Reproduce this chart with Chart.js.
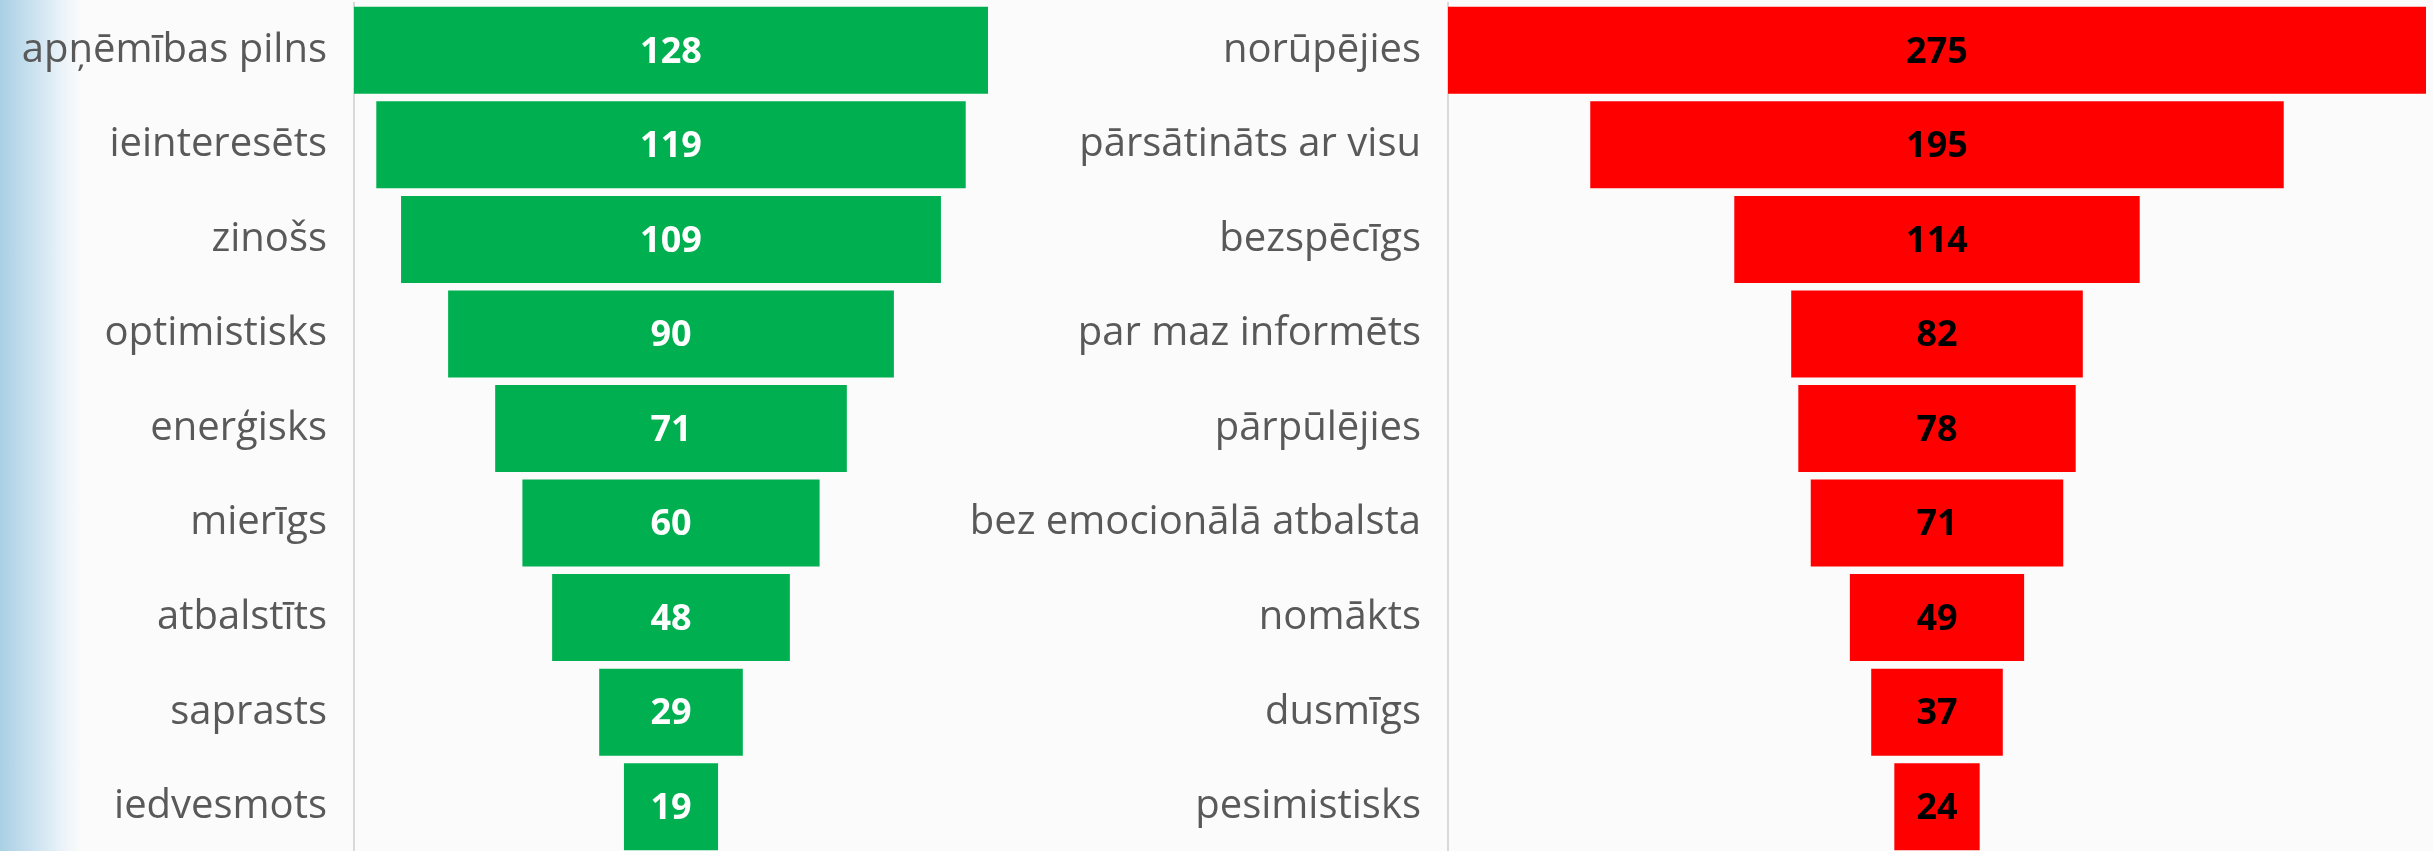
<!DOCTYPE html>
<html>
<head>
<meta charset="utf-8">
<script src="https://cdn.jsdelivr.net/npm/chart.js@4.4.0/dist/chart.umd.min.js"></script>
<style>
  html, body { margin: 0; padding: 0; width: 2433px; height: 851px; overflow: hidden; background: #fbfbfb; }
  #swirl {
    position: absolute; left: 0; top: 0; width: 82px; height: 851px;
    background: linear-gradient(to right, #a9cfe4 0%, #cfe4f1 45%, #eef5fa 80%, #fbfbfb 100%);
  }
  #left { position: absolute; left: 0; top: 0; }
  #right { position: absolute; left: 900px; top: 0; }
</style>
</head>
<body>
<div id="swirl"></div>
<canvas id="left" width="990" height="854"></canvas>
<canvas id="right" width="1533" height="854"></canvas>
<script>
// pozitīvās sajūtas
const positiveLabels = ['apņēmības pilns', 'ieinteresēts', 'zinošs', 'optimistisks', 'enerģisks', 'mierīgs', 'atbalstīts', 'saprasts', 'iedvesmots'];
const positiveValues = [128, 119, 109, 90, 71, 60, 48, 29, 19];

// negatīvās sajūtas
const negativeLabels = ['norūpējies', 'pārsātināts ar visu', 'bezspēcīgs', 'par maz informēts', 'pārpūlējies', 'bez emocionālā atbalsta', 'nomākts', 'dusmīgs', 'pesimistisks'];
const negativeValues = [275, 195, 114, 82, 78, 71, 49, 37, 24];

const labelFont = "'Open Sans', sans-serif";

// skaitļi bāra vidū
const valueLabels = {
  id: 'valueLabels',
  afterDatasetsDraw(chart, args, opts) {
    const ctx = chart.ctx;
    const meta = chart.getDatasetMeta(0);
    const values = chart.data.datasets[0].values;
    ctx.save();
    ctx.font = 'bold 36px ' + labelFont;
    ctx.fillStyle = opts.color;
    ctx.textAlign = 'center';
    ctx.textBaseline = 'middle';
    meta.data.forEach((bar, i) => {
      ctx.fillText(values[i], (bar.x + bar.base) / 2, bar.y + 2);
    });
    ctx.restore();
  }
};

function funnel(canvasId, labels, values, color, textColor, axisWidth, padRight) {
  const half = Math.max(...values) / 2;
  return new Chart(document.getElementById(canvasId), {
    type: 'bar',
    data: {
      labels: labels,
      datasets: [{
        data: values.map(v => [-v / 2, v / 2]),
        values: values,
        backgroundColor: color,
        borderSkipped: false,
        categoryPercentage: 1,
        barPercentage: 0.92
      }]
    },
    options: {
      indexAxis: 'y',
      responsive: false,
      animation: false,
      layout: { padding: { top: 3, right: padRight, bottom: 0, left: 0 } },
      plugins: {
        legend: { display: false },
        tooltip: { enabled: false },
        valueLabels: { color: textColor }
      },
      scales: {
        x: { display: false, min: -half, max: half },
        y: {
          afterFit(scale) {
            scale.width = axisWidth;
            scale.paddingTop = 0;
            scale.paddingBottom = 0;
          },
          grid: { display: false },
          border: { display: true, color: '#d9d9d9', width: 2 },
          ticks: {
            color: '#595959',
            padding: 19,
            font: { family: labelFont, size: 40 }
          }
        }
      }
    },
    plugins: [valueLabels]
  });
}

funnel('left', positiveLabels, positiveValues, '#00b050', '#ffffff', 354, 2);
funnel('right', negativeLabels, negativeValues, '#ff0000', '#000000', 548, 7);
</script>
</body>
</html>
